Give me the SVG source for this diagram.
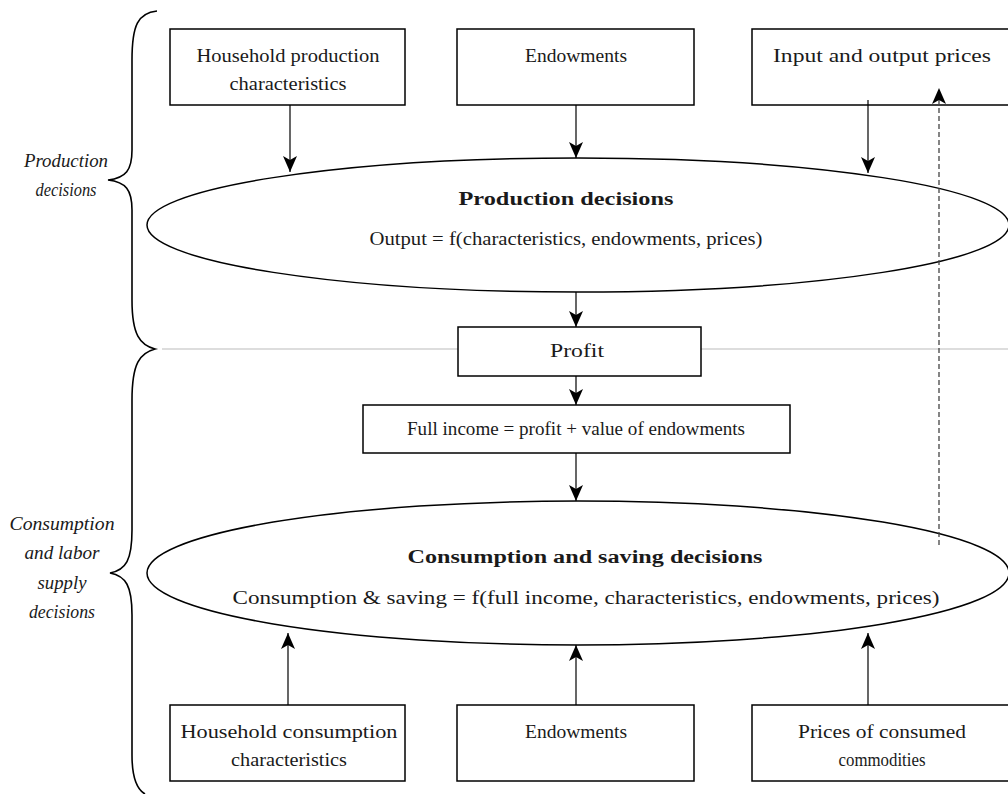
<svg xmlns="http://www.w3.org/2000/svg" width="1008" height="794" viewBox="0 0 1008 794">
<defs>
<marker id="ah" viewBox="0 0 16 14" refX="16" refY="7" markerWidth="16" markerHeight="14" markerUnits="userSpaceOnUse" orient="auto">
<path d="M0,0 L16,7 L0,14 L4,7 Z" fill="#000"/>
</marker>
</defs>
<style>
.box{fill:#fff;stroke:#000;stroke-width:1.5}
.ell{fill:#fff;stroke:#000;stroke-width:1.5}
.t{font-family:'Liberation Serif','DejaVu Serif Condensed','DejaVu Serif',serif;font-stretch:condensed;font-size:18px;fill:#1a1a1a;text-anchor:middle}
.b{font-weight:bold}
.i{font-style:italic}
.c{stroke:#000;stroke-width:1.2;fill:none}
.d{stroke:#444;stroke-width:1.3;stroke-dasharray:5,3;fill:none}
.brace{stroke:#000;stroke-width:1.6;fill:none}
</style>
<rect width="1008" height="794" fill="#fff"/>

<g id="braces">
<path class="brace" d="M157,11 C138,13 132,25 132,60 L132,150 C132,170 126,178 108,180 C126,182 132,190 132,210 L132,300 C132,335 140,345 155,349 C140,353 132,363 132,400 L132,530 C132,560 126,570 110,573 C126,576 132,586 132,615 L132,755 C132,780 138,790 145,794"/>
<text class="t i" x="66" y="167" textLength="84" lengthAdjust="spacingAndGlyphs">Production</text>
<text class="t i" x="66" y="196" textLength="61" lengthAdjust="spacingAndGlyphs">decisions</text>
<text class="t i" x="62" y="530" textLength="105" lengthAdjust="spacingAndGlyphs">Consumption</text>
<text class="t i" x="62" y="559" textLength="75" lengthAdjust="spacingAndGlyphs">and labor</text>
<text class="t i" x="62" y="589" textLength="49" lengthAdjust="spacingAndGlyphs">supply</text>
<text class="t i" x="62" y="618" textLength="66" lengthAdjust="spacingAndGlyphs">decisions</text>
</g>

<line x1="162" y1="349" x2="1008" y2="349" stroke="#aaa" stroke-width="0.8"/>

<g id="production-ellipse">
<ellipse class="ell" cx="578" cy="225" rx="431" ry="67"/>
<text class="t b" x="566" y="205" textLength="215" lengthAdjust="spacingAndGlyphs">Production decisions</text>
<text class="t" x="566" y="245" textLength="393" lengthAdjust="spacingAndGlyphs">Output = f(characteristics, endowments, prices)</text>
</g>

<g id="consumption-ellipse">
<ellipse class="ell" cx="578" cy="573" rx="431" ry="72"/>
<text class="t b" x="585" y="563" textLength="355" lengthAdjust="spacingAndGlyphs">Consumption and saving decisions</text>
<text class="t" x="586" y="604" textLength="707" lengthAdjust="spacingAndGlyphs">Consumption &amp; saving = f(full income, characteristics, endowments, prices)</text>
</g>

<g id="hh-production">
<rect class="box" x="170" y="29" width="235" height="76"/>
<text class="t" x="288" y="62" textLength="183" lengthAdjust="spacingAndGlyphs">Household production</text>
<text class="t" x="288" y="90" textLength="117" lengthAdjust="spacingAndGlyphs">characteristics</text>
</g>
<g id="endowments-top">
<rect class="box" x="457" y="29" width="237" height="76"/>
<text class="t" x="576" y="62" textLength="102" lengthAdjust="spacingAndGlyphs">Endowments</text>
</g>
<g id="io-prices">
<rect class="box" x="752" y="29" width="260" height="76"/>
<text class="t" x="882" y="62" textLength="218" lengthAdjust="spacingAndGlyphs">Input and output prices</text>
</g>

<g id="profit">
<rect class="box" x="458" y="327" width="243" height="49"/>
<text class="t" x="577" y="357" textLength="54" lengthAdjust="spacingAndGlyphs">Profit</text>
</g>
<g id="full-income">
<rect class="box" x="363" y="405" width="427" height="48"/>
<text class="t" x="576" y="435" textLength="338" lengthAdjust="spacingAndGlyphs">Full income = profit + value of endowments</text>
</g>

<g id="hh-consumption">
<rect class="box" x="170" y="705" width="235" height="76"/>
<text class="t" x="289" y="738" textLength="217" lengthAdjust="spacingAndGlyphs">Household consumption</text>
<text class="t" x="289" y="766" textLength="116" lengthAdjust="spacingAndGlyphs">characteristics</text>
</g>
<g id="endowments-bottom">
<rect class="box" x="457" y="705" width="237" height="76"/>
<text class="t" x="576" y="738" textLength="102" lengthAdjust="spacingAndGlyphs">Endowments</text>
</g>
<g id="consumed-prices">
<rect class="box" x="752" y="705" width="260" height="76"/>
<text class="t" x="882" y="738" textLength="168" lengthAdjust="spacingAndGlyphs">Prices of consumed</text>
<text class="t" x="882" y="766" textLength="87" lengthAdjust="spacingAndGlyphs">commodities</text>
</g>

<g id="connectors">
<line class="c" x1="290" y1="105" x2="290" y2="172" marker-end="url(#ah)"/>
<line class="c" x1="576" y1="105" x2="576" y2="158" marker-end="url(#ah)"/>
<line class="c" x1="868" y1="100" x2="868" y2="173" marker-end="url(#ah)"/>
<line class="d" x1="939" y1="545" x2="939" y2="100"/>
<line x1="939" y1="102" x2="939" y2="88" stroke="none" marker-end="url(#ah)"/>
<line class="c" x1="576" y1="292" x2="576" y2="327" marker-end="url(#ah)"/>
<line class="c" x1="576" y1="376" x2="576" y2="405" marker-end="url(#ah)"/>
<line class="c" x1="576" y1="453" x2="576" y2="501" marker-end="url(#ah)"/>
<line class="c" x1="288" y1="705" x2="288" y2="633" marker-end="url(#ah)"/>
<line class="c" x1="576" y1="705" x2="576" y2="645" marker-end="url(#ah)"/>
<line class="c" x1="868" y1="705" x2="868" y2="633" marker-end="url(#ah)"/>
</g>
</svg>
